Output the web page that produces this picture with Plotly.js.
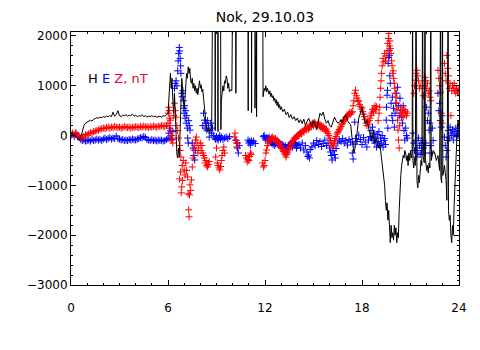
<!DOCTYPE html>
<html>
<head>
<meta charset="utf-8">
<script src="https://cdn.plot.ly/plotly-3.0.1.min.js"></script>
<style>html,body{margin:0;padding:0;background:#fff;}#chart{width:480px;height:350px;}</style>
</head>
<body>
<div id="chart"></div>
<script>
// H component (black line): time [h], value [nT]
const hT = [0.0,0.1,0.2,0.3,0.4,0.5,0.6,0.7,0.8,0.9,1.0,1.1,1.2,1.3,1.4,1.5,1.6,1.7,1.8,1.9,2.0,2.1,2.2,2.3,2.4,2.5,2.6,2.7,2.8,2.9,3.0,3.1,3.2,3.3,3.4,3.5,3.6,3.7,3.8,3.9,4.0,4.1,4.2,4.3,4.4,4.5,4.6,4.7,4.8,4.9,5.0,5.1,5.2,5.3,5.4,5.5,5.6,5.7,5.8,5.9,6.0,
6.05,6.1,6.15,6.2,6.25,6.3,6.35,6.4,6.45,6.5,6.55,6.6,6.65,6.7,6.75,6.8,6.85,6.9,6.95,7.0,7.05,7.1,7.15,7.2,7.25,7.3,7.35,7.4,7.45,7.5,7.55,7.6,7.65,7.7,7.75,7.8,7.85,7.9,7.95,8.0,8.05,8.1,8.15,8.2,8.25,8.3,8.35,8.4,8.45,8.5,8.55,8.6,8.7,
8.76,8.91,8.92,8.93,9.08,9.09,9.10,9.25,9.27,9.3,9.35,9.4,9.45,9.5,9.55,9.6,9.65,9.7,9.75,9.8,9.85,9.95,10.0,10.18,10.2,10.22,10.95,10.96,10.97,11.16,11.17,11.18,11.37,11.38,11.39,11.47,11.48,11.49,11.86,11.88,11.95,
12.0,12.05,12.1,12.15,12.2,12.25,12.3,12.35,12.4,12.45,12.5,12.55,12.6,12.65,12.7,12.75,12.8,12.85,12.9,12.95,13.0,13.1,13.2,13.3,13.4,13.5,13.6,13.7,13.8,13.9,14.0,14.1,14.2,14.3,14.4,14.5,14.6,14.7,14.8,14.9,15.0,15.1,15.2,15.3,15.4,15.5,15.6,15.7,15.8,15.9,16.0,16.1,16.2,16.3,16.4,16.5,16.6,16.7,16.8,16.9,17.0,17.1,17.2,17.3,17.4,17.5,17.6,17.7,17.8,17.9,18.0,18.1,18.2,18.3,18.4,
18.5,18.6,18.7,18.8,18.9,19.0,19.1,19.2,19.3,19.35,19.4,19.45,19.5,19.55,19.6,19.65,19.7,19.75,19.8,19.85,19.9,19.95,20.0,20.05,20.1,20.15,20.2,20.25,20.3,20.35,20.4,20.45,20.5,20.55,20.6,20.65,20.7,20.75,20.8,20.85,20.9,20.95,21.0,21.05,21.1,21.13,21.15,21.2,21.25,21.3,21.34,21.36,21.4,21.45,21.5,21.55,21.6,21.65,21.7,21.75,21.78,21.85,21.9,21.92,22.0,22.05,22.1,22.15,22.2,22.26,22.28,22.35,22.4,22.5,22.6,22.7,22.8,22.86,22.88,22.93,22.98,23.0,23.1,23.2,23.25,23.33,23.35,23.4,23.45,23.5,23.55,23.6,23.65,23.7,23.75,23.8,23.85,23.9,23.95,24.0];
const hV = [50,40,20,-30,-60,-80,-40,80,200,250,270,300,310,290,330,340,360,350,370,360,380,370,390,380,400,380,470,390,420,500,400,380,410,400,420,390,410,400,430,390,410,380,400,390,420,380,400,370,390,380,400,380,390,370,380,390,370,400,390,410,450,
800,1100,1250,950,1150,700,450,850,350,-150,-380,-450,-250,-430,100,800,1150,950,650,550,750,1000,1250,1150,1380,1250,1350,1100,1050,1150,950,1050,900,1000,850,950,820,980,1100,950,1020,880,930,750,550,400,250,150,80,150,60,120,100,
3000,3000,100,3000,3000,80,3000,3000,120,700,850,1000,900,1100,1050,1200,1150,950,1050,880,920,900,3000,3000,850,3000,3000,500,3000,3000,460,3000,3000,550,3000,3000,380,3000,3000,780,950,
900,1000,880,950,900,830,900,780,850,760,800,700,750,650,720,600,680,560,620,520,580,480,530,420,470,360,420,330,380,300,350,260,320,240,330,200,280,350,260,180,300,240,120,280,450,400,470,330,250,300,200,170,280,370,300,250,270,320,260,380,410,300,250,220,-100,-350,-200,150,350,450,570,380,250,300,150,
50,-100,100,-150,-50,-250,-150,-400,-700,-850,-1000,-1300,-1500,-1350,-1700,-1500,-1900,-2150,-1800,-2050,-1950,-2100,-1800,-2000,-1850,-2150,-1950,-2050,-1500,-1050,-800,-600,-500,-400,-450,-300,-350,-500,-400,-600,-350,-500,-300,-450,-350,3000,-500,-650,-450,-600,3000,-700,-900,-1050,-800,-950,-700,-500,-600,3000,-400,-550,3000,-450,-700,-600,-750,-550,-650,3000,-500,-400,-300,-350,-500,-400,-700,3000,-850,-950,3000,-800,-600,-900,-1300,3000,-1500,-1700,-1600,-2000,-2150,-1800,-2000,-1400,-900,-400,-200,200,300,100];

// E component (blue plus signs)
const eT = [0.0,0.1,0.2,0.3,0.4,0.5,0.6,0.7,0.8,0.9,1.0,1.1,1.2,1.3,1.4,1.5,1.6,1.7,1.8,1.9,2.0,2.1,2.2,2.3,2.4,2.5,2.6,2.7,2.8,2.9,3.0,3.1,3.2,3.3,3.4,3.5,3.6,3.7,3.8,3.9,4.0,4.1,4.2,4.3,4.4,4.5,4.6,4.7,4.8,4.9,5.0,5.1,5.2,5.3,5.4,5.5,5.6,5.7,5.8,5.9,6.0,
6.05,6.1,6.12,6.15,6.2,6.25,6.3,6.4,6.45,6.5,6.55,6.6,6.63,6.66,6.7,6.72,6.75,6.78,6.8,6.85,6.88,6.92,6.95,6.98,7.0,7.03,7.06,7.1,7.13,7.16,7.2,7.22,7.25,7.28,7.32,7.36,7.5,7.55,7.6,7.65,7.7,
8.15,8.2,8.25,8.3,8.35,8.4,8.45,8.5,8.55,8.6,8.65,8.7,8.75,8.8,8.9,8.95,9.0,9.05,9.1,9.15,9.2,9.25,9.3,9.4,9.5,9.6,9.7,9.8,
10.2,10.25,10.3,10.35,10.4,10.95,11.0,11.05,11.1,11.15,11.2,11.3,11.4,11.9,11.95,12.0,12.05,12.1,12.15,12.2,12.25,12.3,
12.35,12.4,12.45,12.5,12.55,12.6,12.65,12.7,12.75,12.8,12.85,12.9,12.95,13.0,13.05,13.1,13.15,13.2,13.25,13.3,13.35,13.4,13.45,13.5,13.55,13.6,13.65,13.7,13.75,13.8,13.85,13.9,13.95,
14.0,14.1,14.2,14.3,14.4,14.5,14.6,14.65,14.7,14.75,14.8,14.9,15.0,15.1,15.2,15.3,15.4,15.5,15.6,15.7,15.8,15.9,16.0,16.05,16.1,16.15,16.2,16.3,16.35,16.4,16.5,16.6,16.7,16.8,16.9,17.0,17.1,17.2,17.3,17.4,17.45,17.5,17.55,17.6,17.7,17.8,17.9,18.0,18.1,18.2,18.3,18.4,18.5,
18.55,18.6,18.65,18.7,18.75,18.8,18.85,18.9,18.95,19.0,19.05,19.1,19.15,19.2,19.25,19.3,19.35,19.4,19.45,19.5,19.52,19.55,19.58,19.6,19.62,19.65,19.68,19.7,19.72,19.75,19.8,19.85,19.88,19.9,19.95,20.0,20.05,20.1,20.15,20.2,20.25,20.3,20.35,20.4,20.45,20.5,20.55,20.6,20.65,20.7,20.75,20.8,
21.15,21.2,21.25,21.3,21.35,21.4,21.45,21.5,21.55,21.6,21.65,21.7,21.75,21.8,21.85,21.9,21.95,22.0,22.05,22.1,22.15,22.2,22.25,22.3,22.35,22.4,22.7,22.75,22.8,22.85,22.9,22.95,
23.1,23.15,23.2,23.25,23.3,23.35,23.4,23.45,23.5,23.55,23.6,23.65,23.7,23.75,23.8,23.85,23.9,23.95,24.0];
const eV = [0,30,-20,40,-10,-40,-80,-100,-90,-110,-100,-90,-110,-80,-100,-90,-70,-90,-80,-100,-70,-50,-80,-60,-40,-70,-50,-60,-10,-60,-70,-90,-80,-100,-90,-100,-80,-90,-70,-80,-90,-70,-60,-40,-50,-20,-40,-80,-90,-100,-80,-100,-90,-110,-90,-100,-90,-110,-100,-80,-60,
50,150,-50,100,0,-80,80,950,1050,1100,1000,1300,1500,1650,1770,1700,1550,1400,1250,850,780,900,700,550,450,600,350,500,250,400,150,-50,-150,300,200,110,-150,-250,-400,-490,-300,
200,450,310,150,250,110,300,200,-30,100,250,50,150,0,-50,-80,-20,-60,-90,-40,0,-70,-30,-80,-50,-30,-60,-20,
-90,-150,-250,-350,-200,-90,-150,-120,-190,-100,-140,-110,-160,-20,0,-50,-90,-40,-70,-60,-30,-90,
-120,-150,-110,-180,-140,-200,-160,-130,-170,-120,-190,-150,-210,-170,-230,-180,-220,-260,-200,-290,-350,-250,-210,-180,-220,-150,-190,-230,-170,-140,-200,-160,-250,
-200,-180,-250,-150,-290,-200,-330,-420,-390,-450,-280,-230,-150,-200,-100,-180,-120,-220,-160,-90,-200,-150,-250,-330,-400,-490,-300,-380,-450,-260,-150,-90,-120,-60,-150,-100,-190,-80,-130,-350,-470,-170,270,-60,-120,10,-80,-180,-40,-130,-230,-90,-20,
100,-50,170,-100,50,-150,-30,-230,20,-120,80,-200,-50,-150,0,-230,-100,-60,-180,310,570,810,910,150,1450,1570,1710,1610,1200,1050,650,400,770,300,550,170,450,650,850,970,600,400,750,500,370,250,600,100,-90,150,0,-50,
50,-150,-300,-100,-430,-250,-350,-50,-200,-380,-150,-300,-100,-250,-200,-350,-150,570,300,450,110,250,-200,-350,150,-100,850,500,650,300,170,400,
-30,-200,-430,-300,-100,100,-50,170,50,0,120,-90,80,30,150,-20,90,0,50];

// Z component (red plus signs)
const zT = [0.0,0.1,0.2,0.3,0.4,0.5,0.6,0.7,0.8,0.9,1.0,1.1,1.2,1.3,1.4,1.5,1.6,1.7,1.8,1.9,2.0,2.1,2.2,2.3,2.4,2.5,2.6,2.7,2.8,2.9,3.0,3.1,3.2,3.3,3.4,3.5,3.6,3.7,3.8,3.9,4.0,4.1,4.2,4.3,4.4,4.5,4.6,4.7,4.8,4.9,5.0,5.1,5.2,5.3,5.4,5.5,5.6,5.7,5.8,5.9,6.0,
6.02,6.05,6.08,6.1,6.12,6.15,6.18,6.2,6.22,6.25,6.3,6.35,6.4,6.45,6.5,6.55,6.6,6.65,6.7,6.72,6.75,6.78,6.8,6.82,6.85,6.88,6.9,6.95,7.0,7.05,7.1,7.15,7.2,7.25,7.28,7.3,7.33,7.36,7.4,7.45,7.5,7.55,7.6,7.65,7.7,7.75,7.8,7.85,7.9,8.0,8.05,8.1,8.15,8.2,8.25,8.3,8.35,8.4,8.45,8.5,8.55,
8.95,9.0,9.05,9.1,9.15,9.2,9.25,9.3,9.35,9.4,9.45,9.5,10.1,10.15,10.2,10.25,10.3,
10.8,10.85,10.9,10.95,11.0,11.05,11.1,11.15,11.85,11.9,11.95,12.0,12.05,
12.1,12.15,12.2,12.25,12.3,12.35,12.4,12.45,12.5,12.55,12.6,12.65,12.7,12.75,12.8,12.85,12.9,12.95,13.0,13.05,13.1,13.15,13.2,13.25,13.3,13.35,13.4,13.45,13.5,13.55,13.6,13.65,13.7,13.75,13.8,13.85,13.9,13.95,14.0,14.05,14.1,14.15,14.2,14.25,14.3,14.35,14.4,14.45,14.5,14.55,14.6,14.65,14.7,14.75,14.8,14.85,14.9,14.95,15.0,15.05,15.1,15.15,15.2,15.25,15.3,15.35,15.4,15.45,15.5,15.55,15.6,15.65,15.7,15.75,15.8,15.85,15.9,15.95,16.0,16.05,16.1,16.15,16.2,16.25,16.3,16.35,16.4,16.45,16.5,16.55,16.6,16.65,16.7,16.75,16.8,16.85,16.9,16.95,17.0,17.05,17.1,17.15,17.2,17.25,17.3,17.35,17.4,17.45,17.5,17.55,17.6,17.65,17.7,17.75,17.8,17.85,17.9,17.95,18.0,18.05,18.1,18.15,18.2,18.25,18.3,18.35,18.4,18.45,18.5,18.55,18.6,18.65,18.7,18.75,18.8,18.85,18.9,
19.0,19.05,19.1,19.12,19.15,19.18,19.2,19.25,19.3,19.35,19.4,19.45,19.5,19.55,19.6,19.63,19.66,19.7,19.73,19.76,19.8,19.83,19.86,19.9,19.93,19.96,20.0,20.03,20.06,20.1,20.13,20.16,20.2,20.23,20.26,20.3,20.33,20.36,20.4,20.45,20.5,20.55,20.6,20.65,20.7,20.75,20.8,
21.2,21.25,21.3,21.35,21.4,21.45,21.5,21.55,21.6,21.8,21.85,21.9,21.95,22.0,22.05,22.1,22.15,22.2,22.25,22.7,22.75,22.8,22.85,22.9,22.95,
23.1,23.15,23.2,23.25,23.3,23.35,23.4,23.45,23.5,23.55,23.6,23.65,23.7,23.75,23.8,23.85,23.9,23.95,24.0];
const zV = [30,50,20,60,10,-30,-60,-40,-10,20,10,40,60,50,80,90,100,110,130,140,150,140,160,170,150,170,160,180,170,160,170,150,160,180,170,160,170,150,170,160,180,170,160,180,170,190,170,180,160,180,170,190,180,170,190,180,200,190,180,200,250,
450,570,500,350,200,310,100,-90,0,-50,-150,400,650,500,370,200,100,-50,-200,-870,-300,-730,-430,-1150,-1030,-600,-900,-500,-690,-790,-550,-700,-830,-1170,-1490,-1630,-1190,-990,-1100,-890,-630,-450,-290,-200,-90,-30,-150,-350,-250,-150,-300,-200,-350,-400,-450,-550,-500,-600,-630,-580,-520,
-430,-250,-550,-600,-650,-690,-620,-500,-400,-300,-230,-350,-30,50,-100,-230,-150,
-400,-450,-530,-480,-500,-420,-350,-380,-550,-630,-600,-500,-350,
-290,-200,-150,-100,-60,-80,-50,-30,-70,-50,-90,-60,-110,-90,-140,-170,-150,-200,-230,-260,-290,-320,-350,-390,-430,-380,-330,-290,-250,-220,-180,-150,-120,-100,-70,-40,-60,-20,0,20,-10,40,60,30,80,100,70,120,140,110,150,180,130,160,200,170,230,250,200,270,240,210,180,220,250,190,230,160,200,140,180,120,150,100,130,80,40,0,-50,-100,-160,-200,-230,-170,-110,-60,-20,30,60,90,120,150,180,220,250,280,310,330,360,380,400,420,440,470,430,460,480,600,700,850,910,800,750,680,700,620,580,530,560,480,430,380,320,250,200,270,230,300,350,400,450,520,480,550,600,520,580,
300,450,570,770,950,1100,1250,1400,1550,1480,1650,1500,1600,1700,1850,1950,2050,1800,1900,1750,1650,1500,1400,1250,1300,1150,1050,950,850,770,650,520,310,110,-90,-250,200,450,570,400,500,370,450,520,480,400,450,
850,1000,1110,1250,1310,1200,1100,950,1000,800,1000,1170,1100,950,1050,850,900,770,700,1310,1150,1000,870,450,250,
1450,1250,1100,1610,1350,1200,950,1050,400,900,1000,950,1050,900,850,950,880,920,850];

const tickVals = [0, 6, 12, 18, 24];
const tickText = ['0', '6', '12', '18', '24'];
const yTickVals = [-3000, -2000, -1000, 0, 1000, 2000];
const yTickText = ['\u22123000', '\u22122000', '\u22121000', '0', '1000', '2000'];

const font = 'DejaVu Sans, sans-serif';
const plus = (c) => ({symbol: 'cross-thin-open', size: 5, color: c, line: {color: c, width: 1}});

const traces = [
  {x: eT, y: eV, type: 'scatter', mode: 'markers', marker: plus('#0000ff'), hoverinfo: 'skip'},
  {x: zT, y: zV, type: 'scatter', mode: 'markers', marker: plus('#ff0000'), hoverinfo: 'skip'},
  {x: hT, y: hV, type: 'scatter', mode: 'lines', line: {color: '#000000', width: 1}, hoverinfo: 'skip'},
  {x: [null], y: [null], yaxis: 'y2', type: 'scatter', mode: 'markers', showlegend: false, hoverinfo: 'skip'}
];

const layout = {
  width: 480, height: 350,
  margin: {l: 71, r: 21, t: 32, b: 65},
  paper_bgcolor: '#ffffff', plot_bgcolor: '#ffffff',
  showlegend: false,
  font: {family: font, size: 12, color: '#000000'},
  title: {text: 'Nok, 29.10.03', font: {family: font, size: 14, color: '#000000'}, x: 0.552, xanchor: 'center', y: 0.952, yanchor: 'middle'},
  xaxis: {
    range: [0, 24], tickvals: tickVals, ticktext: tickText,
    ticks: 'inside', ticklen: 5, tickwidth: 1, tickcolor: '#000',
    minor: {dtick: 1, ticks: 'inside', ticklen: 2, tickcolor: '#000', showgrid: false},
    showline: true, linecolor: '#000', linewidth: 1, mirror: 'ticks',
    showgrid: false, zeroline: false, ticklabelstandoff: 12,
    tickfont: {family: font, size: 12, color: '#000'}
  },
  yaxis: {
    range: [-3000, 2080], tickvals: yTickVals, ticktext: yTickText,
    ticks: 'inside', ticklen: 5, tickwidth: 1, tickcolor: '#000',
    minor: {dtick: 200, ticks: 'inside', ticklen: 2, tickcolor: '#000', showgrid: false},
    showline: true, linecolor: '#000', linewidth: 1, mirror: true,
    showgrid: false, zeroline: false,
    tickfont: {family: font, size: 12, color: '#000'}
  },
  yaxis2: {
    overlaying: 'y', side: 'right', anchor: 'x',
    range: [-3000, 2080], tickvals: yTickVals, showticklabels: false,
    ticks: 'inside', ticklen: 5, tickwidth: 1, tickcolor: '#000',
    minor: {dtick: 100, ticks: 'inside', ticklen: 2, tickcolor: '#000', showgrid: false},
    showline: true, linecolor: '#000', linewidth: 1,
    showgrid: false, zeroline: false
  },
  annotations: [{
    xref: 'paper', yref: 'paper', x: 0.039, y: 0.818, xanchor: 'left', yanchor: 'middle',
    showarrow: false,
    text: '<span style="color:#000000">H</span> <span style="color:#0000ff">E</span> <span style="color:#ee0033">Z, nT</span>',
    font: {family: font, size: 13}
  }]
};

Plotly.newPlot('chart', traces, layout, {displayModeBar: false, staticPlot: true});
</script>
</body>
</html>
